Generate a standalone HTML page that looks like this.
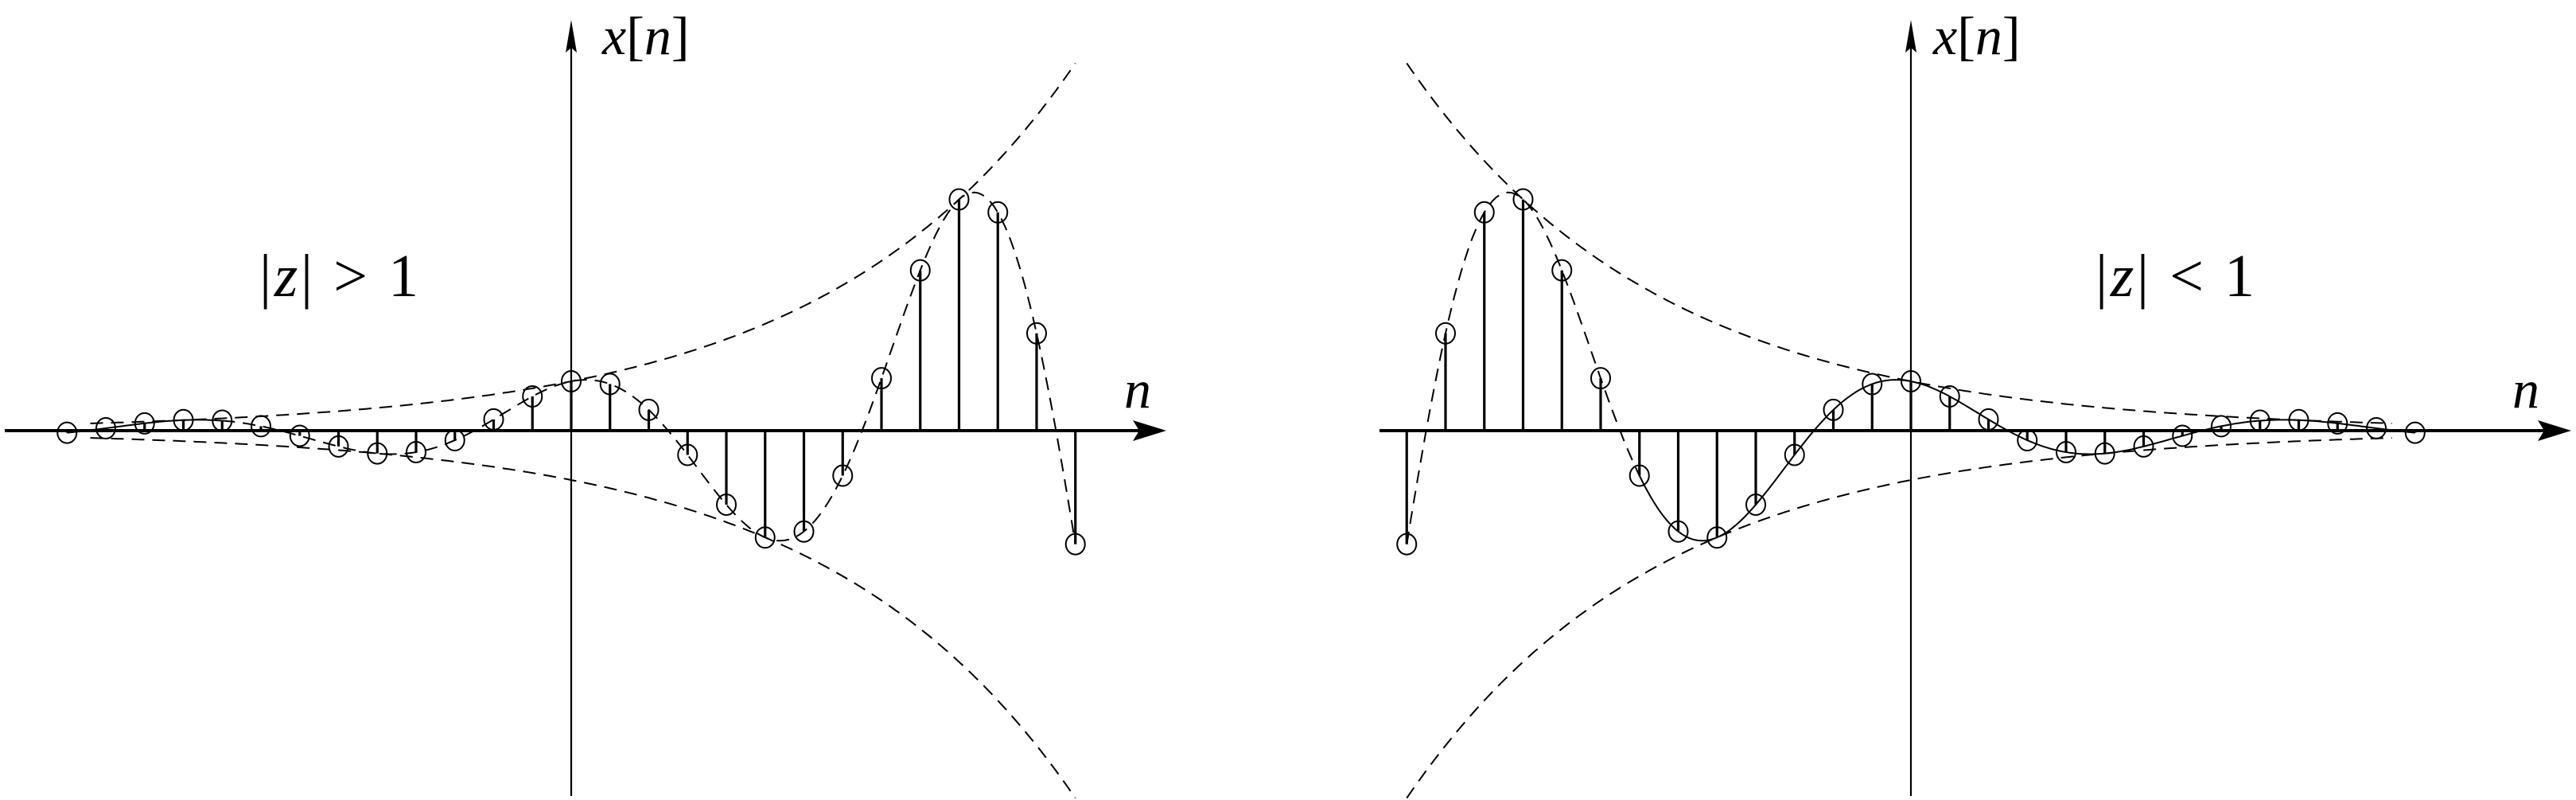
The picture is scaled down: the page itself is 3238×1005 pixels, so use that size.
<!DOCTYPE html>
<html><head><meta charset="utf-8"><style>
html,body{margin:0;padding:0;background:#fff;}
svg{display:block}
text{font-family:"Liberation Serif","DejaVu Serif",serif;font-style:italic;fill:#000}
.up{font-style:normal}
</style></head><body>
<svg id="s" width="3238" height="1005" viewBox="0 0 3238 1005" xmlns="http://www.w3.org/2000/svg">
<g id="g" fill="none" stroke="#000"></g>
<line x1="6" y1="541" x2="1440" y2="541" stroke="#000" stroke-width="4"/>
<path d="M1466 541 L1424 528 L1432 541 L1424 554 Z" fill="#000"/>
<line x1="718" y1="1000" x2="718" y2="55" stroke="#000" stroke-width="2.2"/>
<path d="M718 25 L711 66 L718 60 L725 66 Z" fill="#000"/>
<line x1="1734" y1="541" x2="3205" y2="541" stroke="#000" stroke-width="4"/>
<path d="M3232 541 L3190 528 L3198 541 L3190 554 Z" fill="#000"/>
<line x1="2402" y1="1000" x2="2402" y2="55" stroke="#000" stroke-width="2.2"/>
<path d="M2402 25 L2395 66 L2402 60 L2409 66 Z" fill="#000"/>
<text x="757" y="68" font-size="68" font-family="Liberation Serif, serif">x<tspan class="up">[</tspan>n<tspan class="up">]</tspan></text>
<text x="2430" y="68" font-size="68" font-family="Liberation Serif, serif">x<tspan class="up">[</tspan>n<tspan class="up">]</tspan></text>
<text x="1413" y="512" font-size="68" font-family="Liberation Serif, serif">n</text>
<text x="3158" y="512" font-size="68" font-family="Liberation Serif, serif">n</text>
<text x="326" y="372" font-size="76" font-family="Liberation Serif, serif" textLength="200"><tspan class="up">|</tspan>z<tspan class="up">| &gt; 1</tspan></text>
<text x="2634" y="372" font-size="76" font-family="Liberation Serif, serif" textLength="200"><tspan class="up">|</tspan>z<tspan class="up">| &lt; 1</tspan></text>
</svg>
<script>
(function(){
var g=document.getElementById('g'),NS='http://www.w3.org/2000/svg';
function el(t,a){var e=document.createElementNS(NS,t);for(var k in a)e.setAttribute(k,a[k]);g.appendChild(e);return e;}
var A=62,r=1.167,sp=48.75;
function panel(x0,dir){
 function X(n){return x0+sp*n;}
 function env(t){return A*Math.pow(r,dir*t);}
 function f(t){return env(t)*Math.cos(Math.PI*t/5);}
 function path(fn,a,b,step){var d='';for(var t=a;t<=b+1e-9;t+=step){d+=(d?'L':'M')+X(t).toFixed(1)+' '+(541-fn(t)).toFixed(1);}return d;}
 var dash='16 10';
 var ea=dir>0?-12.4:-13, eb=dir>0?13:12.4;
 el('path',{d:path(env,ea,eb,0.1),'stroke-width':2,'stroke-dasharray':dash});
 el('path',{d:path(function(t){return -env(t);},ea,eb,0.1),'stroke-width':2,'stroke-dasharray':dash});
 if(dir>0){
  el('path',{d:path(f,-13,-9,0.1),'stroke-width':2});
  el('path',{d:path(f,-9,13,0.1),'stroke-width':2,'stroke-dasharray':dash});
 } else {
  el('path',{d:path(f,-13,-7,0.1),'stroke-width':2,'stroke-dasharray':dash});
  el('path',{d:path(f,-7,13,0.1),'stroke-width':2});
 }
 for(var n=-13;n<=13;n++){
  var v=f(n),x=X(n),y=541-v;
  el('line',{x1:x,y1:541,x2:x,y2:y,'stroke-width':3.2});
  el('ellipse',{cx:x,cy:y,rx:12,ry:13,'stroke-width':2,fill:'none'});
 }
}
panel(718,1);
panel(2402,-1);
})();
</script>
</body></html>
